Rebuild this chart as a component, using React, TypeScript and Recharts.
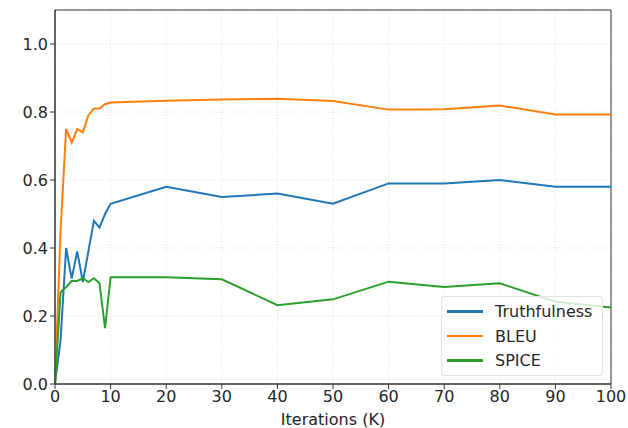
import { LineChart, Line, XAxis, YAxis, CartesianGrid, ReferenceArea } from 'recharts';

const iterations = [0, 1, 2, 3, 4, 5, 6, 7, 8, 9, 10, 20, 30, 40, 50, 60, 70, 80, 90, 100];
const truthfulness = [0, 0.13, 0.4, 0.31, 0.39, 0.3, 0.39, 0.48, 0.46, 0.5, 0.53, 0.58, 0.55, 0.56, 0.53, 0.59, 0.59, 0.6, 0.58, 0.58];
const bleu = [0, 0.45, 0.75, 0.71, 0.75, 0.74, 0.79, 0.81, 0.81, 0.823, 0.828, 0.833, 0.837, 0.839, 0.832, 0.807, 0.808, 0.819, 0.793, 0.793];
const spice = [0, 0.27, 0.285, 0.303, 0.303, 0.311, 0.3, 0.311, 0.296, 0.164, 0.314, 0.314, 0.308, 0.232, 0.249, 0.301, 0.285, 0.296, 0.242, 0.225];

const xTicks = [0, 10, 20, 30, 40, 50, 60, 70, 80, 90, 100];
const yTicks = [0, 0.2, 0.4, 0.6, 0.8, 1.0];

const series = [
  { key: 'truthfulness', name: 'Truthfulness', color: '#1f77b4' },
  { key: 'bleu', name: 'BLEU', color: '#ff7f0e' },
  { key: 'spice', name: 'SPICE', color: '#2ca02c' },
];

const data = iterations.map((it, i) => ({
  it,
  truthfulness: truthfulness[i],
  bleu: bleu[i],
  spice: spice[i],
}));

const font = '"DejaVu Sans", sans-serif';
const tickStyle = { fill: '#262626', fontSize: 16, fontFamily: font };

// legend drawn as an overlay so the plot keeps its full height
function LegendBox() {
  return (
    <div
      style={{
        position: 'absolute',
        left: 441,
        top: 296,
        width: 162,
        height: 80,
        boxSizing: 'border-box',
        border: '1px solid #e3e3e3',
        borderRadius: 3,
        background: 'rgba(255,255,255,0.8)',
        padding: '2px 0 0 5px',
        fontFamily: font,
        fontSize: 16,
        color: '#262626',
      }}
    >
      {series.map((s) => (
        <div key={s.key} style={{ display: 'flex', alignItems: 'center', height: 24.7 }}>
          <span style={{ display: 'inline-block', width: 36, height: 2.5, background: s.color, marginRight: 12 }} />
          <span>{s.name}</span>
        </div>
      ))}
    </div>
  );
}

export default function App() {
  return (
    <div style={{ position: 'relative', width: 628, height: 428, background: '#fff' }}>
      <style>{'body{margin:0}'}</style>
      <LineChart width={628} height={428} data={data} margin={{ top: 10, right: 17, bottom: 0, left: 0 }}>
        <CartesianGrid stroke="#e0e0e0" strokeDasharray="1 2" vertical horizontal />
        <XAxis
          dataKey="it"
          type="number"
          domain={[0, 100]}
          ticks={xTicks}
          tick={tickStyle}
          tickSize={5}
          tickLine={{ stroke: '#333' }}
          axisLine={{ stroke: '#333' }}
          height={44}
          label={{ value: 'Iterations (K)', position: 'insideBottom', offset: 3, fill: '#262626', fontSize: 16, fontFamily: font }}
        />
        <YAxis
          type="number"
          domain={[0, 1.1]}
          ticks={yTicks}
          tick={tickStyle}
          tickFormatter={(v: number) => v.toFixed(1)}
          tickSize={5}
          tickLine={{ stroke: '#333' }}
          axisLine={{ stroke: '#333' }}
          width={55}
        />
        <ReferenceArea x1={0} x2={100} y1={0} y2={1.1} fill="none" stroke="#333" strokeWidth={1} ifOverflow="visible" />
        {series.map((s) => (
          <Line
            key={s.key}
            type="linear"
            dataKey={s.key}
            name={s.name}
            stroke={s.color}
            strokeWidth={2}
            dot={false}
            isAnimationActive={false}
          />
        ))}
      </LineChart>
      <LegendBox />
    </div>
  );
}
